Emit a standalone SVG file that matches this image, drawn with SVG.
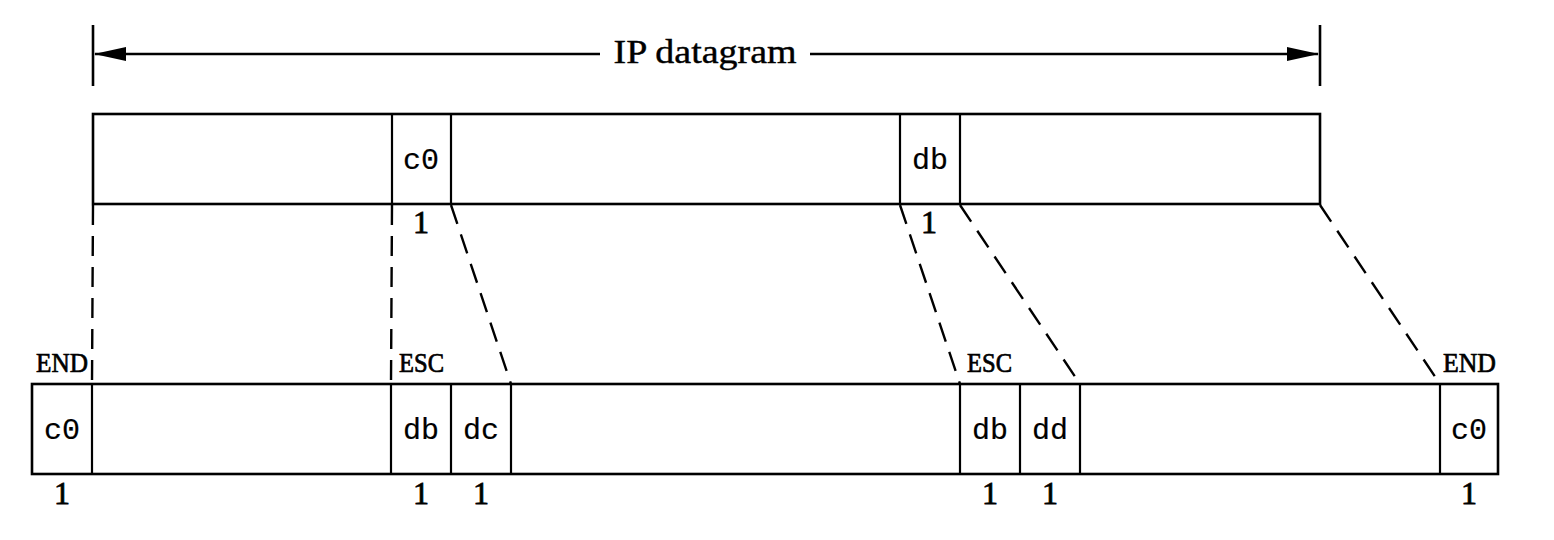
<svg xmlns="http://www.w3.org/2000/svg" width="1554" height="540" viewBox="0 0 1554 540">
<style>
.box{fill:#fff;stroke:#000;stroke-width:2.6}
.div{stroke:#000;stroke-width:2.2}
.dash{stroke:#000;stroke-width:2.4;stroke-dasharray:20 11;fill:none}
.mono{font-family:"Liberation Mono","Courier New",monospace;font-size:30px;fill:#000;stroke:#000;stroke-width:0.2;text-anchor:middle}
.num{font-family:"Liberation Serif","Times New Roman",serif;font-size:32px;fill:#000;stroke:#000;stroke-width:0.8;text-anchor:middle}
.tag{font-family:"Liberation Serif","Times New Roman",serif;font-size:27px;fill:#000;stroke:#000;stroke-width:0.7}
.title{font-family:"Liberation Serif","Times New Roman",serif;font-size:33px;fill:#000;stroke:#000;stroke-width:0.4;text-anchor:middle}
.line{stroke:#000;stroke-width:2.6}
</style>
<defs>
<marker id="ah" markerWidth="32" markerHeight="14" refX="31" refY="7" orient="auto" markerUnits="userSpaceOnUse">
<path d="M0,0 L32,7 L0,14 Z" fill="#000"/>
</marker>
</defs>
<g id="dimension">
<line class="line" x1="93" y1="25" x2="93" y2="86"/>
<line class="line" x1="1320" y1="25" x2="1320" y2="86"/>
<line class="line" x1="600" y1="54" x2="95" y2="54" marker-end="url(#ah)"/>
<line class="line" x1="810" y1="54" x2="1318" y2="54" marker-end="url(#ah)"/>
<text class="title" x="705" y="63" textLength="183" lengthAdjust="spacingAndGlyphs">IP datagram</text>
</g>
<g id="ip-datagram">
<rect class="box" x="93" y="114" width="1227" height="90"/>
<line class="div" x1="392" y1="114" x2="392" y2="204"/>
<line class="div" x1="451" y1="114" x2="451" y2="204"/>
<line class="div" x1="900" y1="114" x2="900" y2="204"/>
<line class="div" x1="960" y1="114" x2="960" y2="204"/>
<text class="mono" x="421" y="169">c0</text>
<text class="mono" x="930" y="169">db</text>
<text class="num" x="421" y="233">1</text>
<text class="num" x="929" y="233">1</text>
</g>
<g id="slip-frame">
<rect class="box" x="32" y="384" width="1466" height="90"/>
<line class="div" x1="92" y1="384" x2="92" y2="474"/>
<line class="div" x1="391" y1="384" x2="391" y2="474"/>
<line class="div" x1="451" y1="384" x2="451" y2="474"/>
<line class="div" x1="511" y1="384" x2="511" y2="474"/>
<line class="div" x1="960" y1="384" x2="960" y2="474"/>
<line class="div" x1="1020" y1="384" x2="1020" y2="474"/>
<line class="div" x1="1080" y1="384" x2="1080" y2="474"/>
<line class="div" x1="1440" y1="384" x2="1440" y2="474"/>
<text class="mono" x="62" y="439">c0</text>
<text class="mono" x="421" y="439">db</text>
<text class="mono" x="481" y="439">dc</text>
<text class="mono" x="990" y="439">db</text>
<text class="mono" x="1050" y="439">dd</text>
<text class="mono" x="1469" y="439">c0</text>
<text class="num" x="62" y="504">1</text>
<text class="num" x="421" y="504">1</text>
<text class="num" x="481" y="504">1</text>
<text class="num" x="990" y="504">1</text>
<text class="num" x="1050" y="504">1</text>
<text class="num" x="1469" y="504">1</text>
<text class="tag" x="36" y="372" textLength="52" lengthAdjust="spacingAndGlyphs">END</text>
<text class="tag" x="399" y="372" textLength="45" lengthAdjust="spacingAndGlyphs">ESC</text>
<text class="tag" x="967" y="372" textLength="45" lengthAdjust="spacingAndGlyphs">ESC</text>
<text class="tag" x="1443" y="372" textLength="53" lengthAdjust="spacingAndGlyphs">END</text>
</g>
<g id="connectors">
<line class="dash" x1="93" y1="205" x2="92" y2="384"/>
<line class="dash" x1="392" y1="205" x2="391" y2="384"/>
<line class="dash" x1="451" y1="205" x2="511" y2="384"/>
<line class="dash" x1="900" y1="205" x2="960" y2="384"/>
<line class="dash" x1="960" y1="205" x2="1080" y2="384"/>
<line class="dash" x1="1320" y1="205" x2="1440" y2="384"/>
</g>
</svg>
